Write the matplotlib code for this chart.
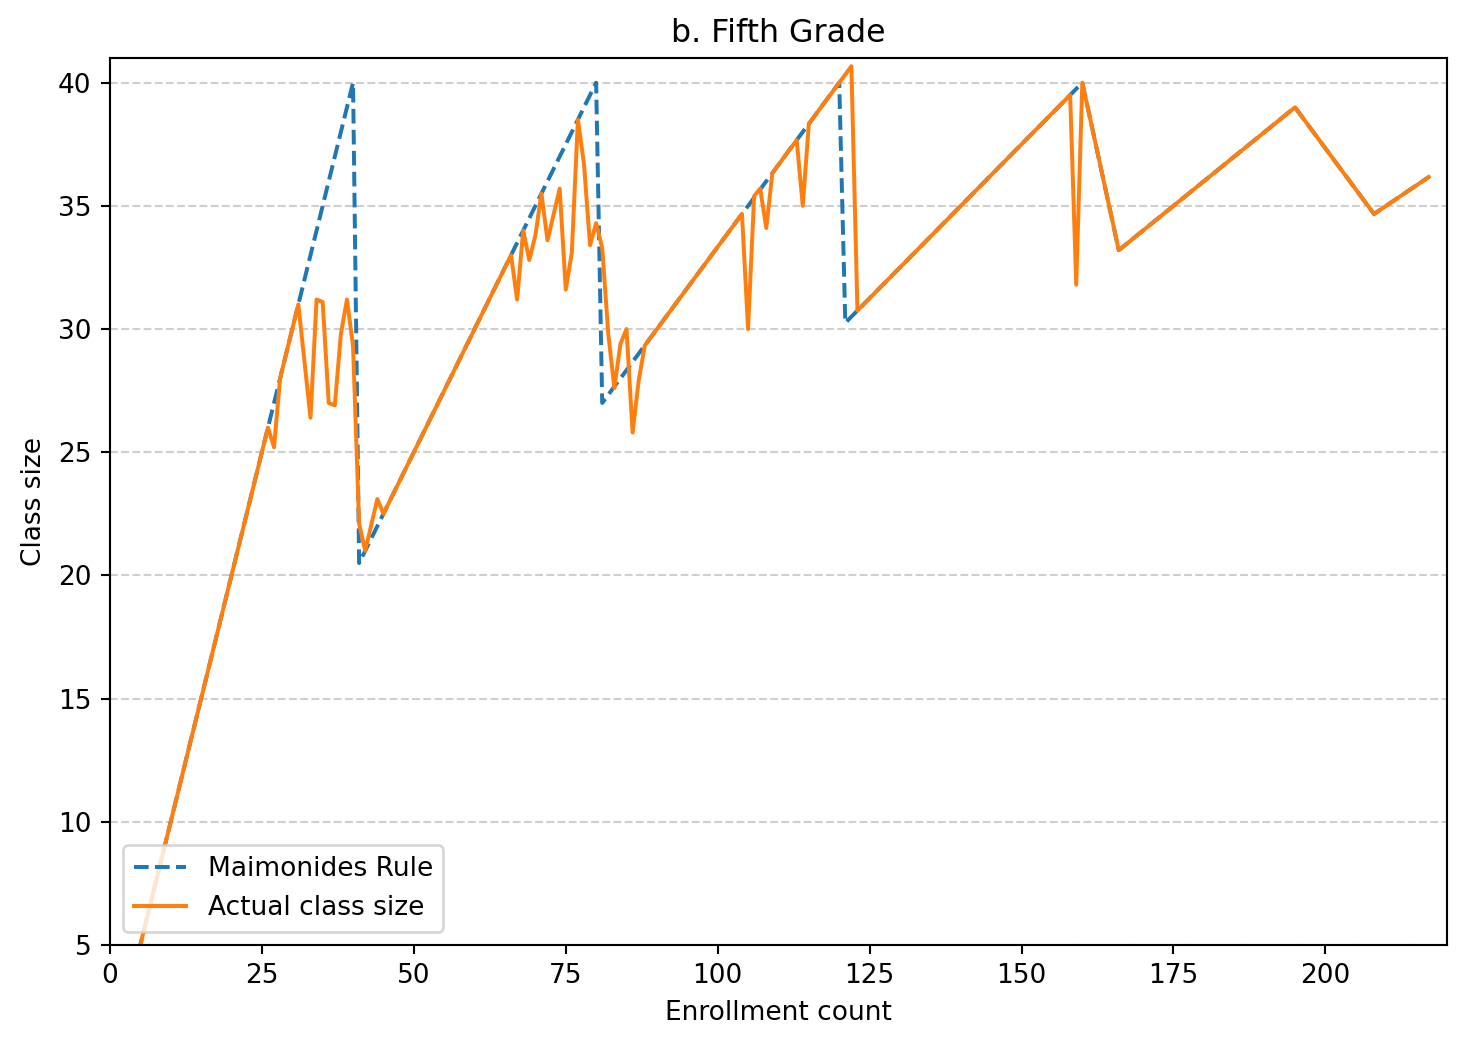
import matplotlib
matplotlib.use("Agg")
import matplotlib.pyplot as plt

# enrollment counts in the sample (x axis)
enrollment = [3, 26, 27, 28, 31, 33, 34, 35, 36, 37, 38, 39, 40, 41, 42, 44, 45,
              66, 67, 68, 69, 70, 71, 72, 74, 75, 76, 77, 78, 79, 80, 81, 82, 83,
              84, 85, 86, 87, 88, 104, 105, 106, 107, 108, 109, 113, 114, 115,
              120, 121, 122, 123, 158, 159, 160, 166, 195, 208, 217]

# predicted class size under Maimonides' rule
maimonides = [3, 26, 27, 28, 31, 33, 34, 35, 36, 37, 38, 39, 40, 20.5, 21, 22, 22.5,
              33, 33.5, 34, 34.5, 35, 35.5, 36, 37, 37.5, 38, 38.5, 39, 39.5, 40, 27,
              27.33, 27.67, 28, 28.33, 28.67, 29, 29.33, 34.67, 35, 35.33, 35.67, 36,
              36.33, 37.67, 38, 38.33, 40, 30.25, 30.5, 30.75, 39.5, 39.75, 40, 33.2,
              39, 34.67, 36.17]

# observed average class size
actual = [3, 26, 25.2, 28, 31, 26.4, 31.2, 31.1, 27.0, 26.9, 29.8, 31.2, 29.3,
          22.1, 21.0, 23.1, 22.5, 33, 31.2, 34, 32.8, 33.8, 35.5, 33.6, 35.7, 31.6,
          33.1, 38.5, 36.7, 33.4, 34.3, 33.3, 29.8, 27.6, 29.4, 30.0, 25.8, 27.9,
          29.33, 34.67, 30.0, 35.4, 35.7, 34.1, 36.33, 37.67, 35.0, 38.33, 40, 40.33,
          40.67, 30.75, 39.5, 31.8, 40, 33.2, 39, 34.67, 36.17]

fig, ax = plt.subplots(figsize=(1466 / 190, 1046 / 190), dpi=190)
fig.subplots_adjust(left=0.075, right=0.987, top=0.9445, bottom=0.0966)

ax.plot(enrollment, maimonides, linestyle="--", color="tab:blue", label="Maimonides Rule")
ax.plot(enrollment, actual, color="tab:orange", label="Actual class size")

ax.set_xlim(0, 220)
ax.set_ylim(5, 41)
ax.set_title("b. Fifth Grade")
ax.set_xlabel("Enrollment count")
ax.set_ylabel("Class size")
ax.grid(axis="y", linestyle="--", alpha=0.6)
ax.legend(loc="lower left")

fig.savefig("out.png", dpi=190)
